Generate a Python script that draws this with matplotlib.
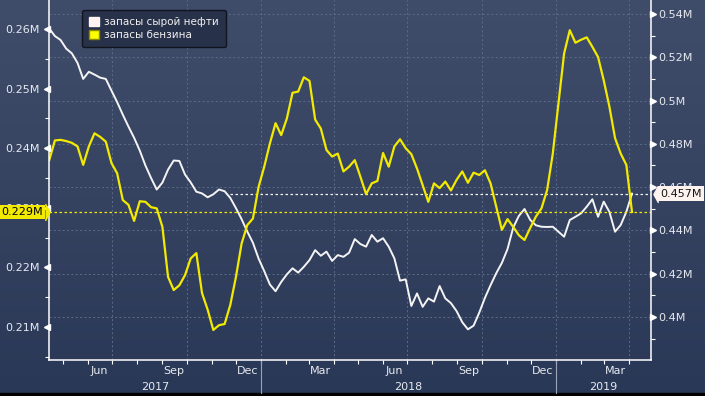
import numpy as np
import pandas as pd
import matplotlib
matplotlib.use('Agg')
import matplotlib.pyplot as plt
import matplotlib.dates as mdates
from matplotlib.patches import Patch, Rectangle
from matplotlib.colors import LinearSegmentedColormap

# weekly data, mln barrels shown as "M"
weeks = pd.date_range('2017-04-14', periods=104, freq='7D')

crude = [0.5333, 0.5298, 0.5280, 0.5240, 0.5218, 0.5174, 0.5100, 0.5133, 0.5120, 0.5106,
         0.5100, 0.5046, 0.4993, 0.4935, 0.4880, 0.4828, 0.4769, 0.4700, 0.4642, 0.4589,
         0.4621, 0.4681, 0.4723, 0.4721, 0.4658, 0.4622, 0.4579, 0.4571, 0.4553, 0.4567,
         0.4589, 0.4581, 0.4550, 0.4503, 0.4452, 0.4395, 0.4343, 0.4270, 0.4212, 0.4150,
         0.4119, 0.4162, 0.4197, 0.4225, 0.4205, 0.4232, 0.4263, 0.4309, 0.4283, 0.4302,
         0.4259, 0.4286, 0.4278, 0.4297, 0.4360, 0.4337, 0.4325, 0.4379, 0.4348, 0.4364,
         0.4325, 0.4271, 0.4168, 0.4174, 0.4051, 0.4109, 0.4047, 0.4086, 0.4071, 0.4143,
         0.4086, 0.4064, 0.4027, 0.3976, 0.3943, 0.3960, 0.4020, 0.4088, 0.4147, 0.4202,
         0.4250, 0.4314, 0.4413, 0.4467, 0.4499, 0.4449, 0.4424, 0.4417, 0.4416, 0.4417,
         0.4394, 0.4371, 0.4448, 0.4463, 0.4479, 0.4510, 0.4544, 0.4463, 0.4533, 0.4486,
         0.4394, 0.4425, 0.4486, 0.4570]

gasoline = [0.2380, 0.2413, 0.2414, 0.2412, 0.2409, 0.2403, 0.2372, 0.2403, 0.2425, 0.2419,
            0.2411, 0.2375, 0.2358, 0.2313, 0.2305, 0.2278, 0.2311, 0.2310, 0.2301, 0.2299,
            0.2268, 0.2184, 0.2162, 0.2170, 0.2187, 0.2215, 0.2224, 0.2157, 0.2129, 0.2095,
            0.2103, 0.2105, 0.2137, 0.2184, 0.2240, 0.2271, 0.2282, 0.2335, 0.2369, 0.2408,
            0.2442, 0.2422, 0.2450, 0.2493, 0.2495, 0.2519, 0.2513, 0.2448, 0.2433, 0.2397,
            0.2386, 0.2391, 0.2361, 0.2369, 0.2380, 0.2352, 0.2323, 0.2341, 0.2345, 0.2392,
            0.2369, 0.2403, 0.2415, 0.2400, 0.2390, 0.2366, 0.2338, 0.2310, 0.2341, 0.2333,
            0.2344, 0.2329, 0.2347, 0.2361, 0.2342, 0.2359, 0.2355, 0.2363, 0.2341, 0.2302,
            0.2263, 0.2281, 0.2268, 0.2254, 0.2246, 0.2266, 0.2285, 0.2299, 0.2330, 0.2391,
            0.2475, 0.2559, 0.2598, 0.2577, 0.2582, 0.2586, 0.2570, 0.2553, 0.2514, 0.2470,
            0.2417, 0.2391, 0.2372, 0.2293]

series_names = ['запасы сырой нефти', 'запасы бензина']

left_ticks = [0.21, 0.22, 0.23, 0.24, 0.25, 0.26]
left_labels = ['0.21M', '0.22M', '0.23M', '0.24M', '0.25M', '0.26M']
left_minor = [0.205, 0.215, 0.225, 0.235, 0.245, 0.255]
right_ticks = [0.40, 0.42, 0.44, 0.46, 0.48, 0.50, 0.52, 0.54]
right_labels = ['0.4M', '0.42M', '0.44M', '0.46M', '0.48M', '0.5M', '0.52M', '0.54M']
right_minor = [0.39, 0.41, 0.43, 0.45, 0.47, 0.49, 0.51, 0.53]

month_labels = ['Jun', 'Sep', 'Dec', 'Mar', 'Jun', 'Sep', 'Dec', 'Mar']
month_pos = pd.to_datetime(['2017-06-15', '2017-09-15', '2017-12-15', '2018-03-15',
                            '2018-06-15', '2018-09-15', '2018-12-15', '2019-03-15'])
month_starts = pd.date_range('2017-05-01', '2019-04-01', freq='MS')
quarter_lines = pd.to_datetime(['2017-07-01', '2017-10-01', '2018-01-01', '2018-04-01',
                                '2018-07-01', '2018-10-01', '2019-01-01', '2019-04-01'])
years = ['2017', '2018', '2019']
year_starts = pd.to_datetime(['2018-01-01', '2019-01-01'])
x0, x1 = pd.Timestamp('2017-04-13 17:00'), pd.Timestamp('2019-04-28 12:00')
white_level_from = pd.Timestamp('2017-11-24')

yellow = '#f2ea00'
white = '#f4f4f4'
txt = '#e6e9ef'
gridc = '#5b6c88'

fig = plt.figure(figsize=(7.05, 3.96), dpi=100)

# background gradient
bg = fig.add_axes([0, 0, 1, 1], zorder=-10)
cmap = LinearSegmentedColormap.from_list('bg', ['#404d6a', '#2a3857'])
bg.imshow(np.linspace(0, 1, 256).reshape(-1, 1), aspect='auto', cmap=cmap, extent=[0, 1, 0, 1])
bg.add_patch(Rectangle((0, 0), 1, 3 / 396, color='black'))
bg.axis('off')

ax = fig.add_axes([49 / 705, 36 / 396, 602 / 705, 360 / 396])
ax2 = ax.twinx()
ax.set_zorder(ax2.get_zorder() + 1)
ax.patch.set_visible(False)
ax2.patch.set_visible(False)

# grid (under everything)
ax2.set_yticks(right_ticks, right_labels)
ax2.set_yticks(right_minor, minor=True)
ax2.grid(axis='y', which='major', color=gridc, lw=0.7, ls=(0, (2, 2.5)))
for d in quarter_lines:
    ax2.axvline(d, color=gridc, lw=0.7, ls=(0, (2, 2.5)), zorder=0)

ax2.plot(weeks, crude, color=white, lw=1.4)
ax.plot(weeks, gasoline, color=yellow, lw=1.6)

# last value lines
ax.axhline(gasoline[-1], color=yellow, lw=0.9, ls=(0, (2, 2)))
ax2.hlines(crude[-1], xmin=white_level_from, xmax=x1, color=white, lw=0.9, ls=(0, (2, 2)))

ax.set_xlim(x0, x1)
ax.set_ylim(0.20446, 0.26487)
ax2.set_ylim(0.38013, 0.54647)

ax.set_yticks(left_ticks, left_labels)
ax.set_yticks(left_minor, minor=True)
ax.tick_params(axis='y', which='major', length=0, pad=7, labelsize=8, labelcolor=txt)
ax.tick_params(axis='y', which='minor', length=3, width=0.8, color='white')
ax2.tick_params(axis='y', which='major', length=0, pad=5, labelsize=8, labelcolor=txt)
ax2.tick_params(axis='y', which='minor', length=3, width=0.8, color='white')

# triangle tick marks
ax.plot(np.full(len(left_ticks), -0.0035), left_ticks, marker='<', ls='none', ms=4.5,
        color='white', transform=ax.get_yaxis_transform(), clip_on=False)
ax2.plot(np.full(len(right_ticks), 1.0035), right_ticks, marker='>', ls='none', ms=4.5,
         color='white', transform=ax2.get_yaxis_transform(), clip_on=False)

ax.set_xticks(month_pos, month_labels)
ax.set_xticks(month_starts, minor=True)
ax.tick_params(axis='x', which='major', length=0, pad=4, labelsize=8, labelcolor=txt)
ax.tick_params(axis='x', which='minor', length=3, width=0.8, color='white')
ax2.tick_params(axis='x', which='both', length=0, labelbottom=False)

for s in ['left', 'bottom', 'right']:
    ax.spines[s].set_color('white')
    ax.spines[s].set_linewidth(1.1)
ax.spines['top'].set_visible(False)
for s in ax2.spines.values():
    s.set_visible(False)

# year separators and labels
xt = ax.get_xaxis_transform()
for d in year_starts:
    ax.plot([d, d], [0, -0.092], color='#9aa3b5', lw=0.8, transform=xt, clip_on=False)
bounds = [x0] + list(year_starts) + [x1]
for i, y in enumerate(years):
    mid = mdates.date2num(bounds[i]) / 2 + mdates.date2num(bounds[i + 1]) / 2
    ax.text(mid, -0.074, y, transform=xt, ha='center', va='center', fontsize=8, color=txt)

# last value tags
yt = ax.get_yaxis_transform()
ax.text(-0.0105, gasoline[-1], f'{gasoline[-1]:.3f}M', transform=yt, ha='right', va='center',
        fontsize=8, color='black', zorder=10, clip_on=False,
        bbox=dict(boxstyle='square,pad=0.2', fc=yellow, ec=yellow, lw=0))
ax.plot([-0.0068], [gasoline[-1]], marker=[(0, -1), (0.55, 0), (0, 1)], ms=12, color=yellow,
        mec=yellow, transform=yt, clip_on=False, zorder=11)
yt2 = ax2.get_yaxis_transform()
ax2.text(1.015, crude[-1], f'{crude[-1]:.3f}M', transform=yt2, ha='left', va='center',
         fontsize=8, color='#151515', zorder=10, clip_on=False,
         bbox=dict(boxstyle='square,pad=0.2', fc='#fff3f0', ec='#fff3f0', lw=0))
ax2.plot([1.0113], [crude[-1]], marker=[(0, -1), (-0.55, 0), (0, 1)], ms=12, color='#fff3f0',
         mec='#fff3f0', transform=yt2, clip_on=False, zorder=11)

handles = [Patch(fc='#fff4f2', ec='#fff4f2'), Patch(fc='#ffff00', ec='#8a8a00')]
ax.legend(handles, series_names, loc='upper left', bbox_to_anchor=(0.055, 0.972),
          borderaxespad=0, fontsize=7.5, facecolor='#273149', edgecolor='#10141d',
          labelcolor='#f0f0f0', handlelength=0.9, handleheight=0.9, handletextpad=0.5,
          borderpad=0.7, labelspacing=0.25, framealpha=1)

fig.savefig('out.png', dpi=100)
